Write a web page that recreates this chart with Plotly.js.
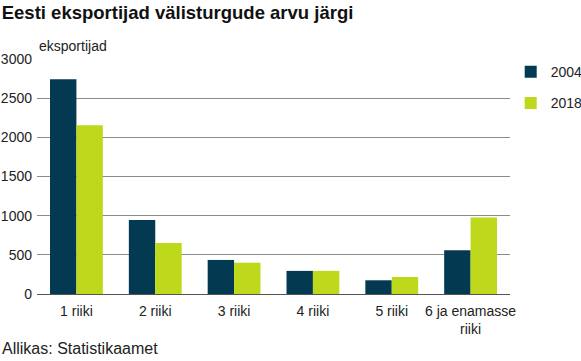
<!DOCTYPE html>
<html>
<head>
<meta charset="utf-8">
<script src="https://cdn.plot.ly/plotly-3.0.1.min.js"></script>
<style>html,body{margin:0;padding:0;background:#fff;}#chart{width:581px;height:361px;}</style>
</head>
<body>
<div id="chart"></div>
<script>
const categories = ["1 riiki", "2 riiki", "3 riiki", "4 riiki", "5 riiki", "6 ja enamasse<br>riiki"];
const values2004 = [2740, 945, 435, 295, 175, 560];
const values2018 = [2155, 650, 400, 295, 217, 978];
const seriesNames = ["2004", "2018"];
const yTicks = [0, 500, 1000, 1500, 2000, 2500, 3000];

const font = "Liberation Sans, Arial, sans-serif";

const data = [
  {type: "bar", name: seriesNames[0], x: categories, y: values2004,
   marker: {color: "#033a52"}, legendgroup: "a", hoverinfo: "y"},
  {type: "bar", name: seriesNames[1], x: categories, y: values2018,
   marker: {color: "#bed81c"}, legendgroup: "b", hoverinfo: "y"}
];

const layout = {
  width: 581, height: 361,
  margin: {l: 37, r: 71, t: 59, b: 67, autoexpand: false},
  paper_bgcolor: "#fff", plot_bgcolor: "#fff",
  font: {family: font, size: 14, color: "#222"},
  barmode: "group", bargap: 0.33, bargroupgap: 0,
  title: {text: "<b>Eesti eksportijad välisturgude arvu järgi</b>", x: 0.003, xanchor: "left", xref: "container",
          y: 0.966, yanchor: "middle", yref: "container", font: {family: font, size: 18.5, color: "#111"}},
  xaxis: {type: "category", showgrid: false, ticks: "", showline: false, zeroline: false,
          ticklabelstandoff: 7,
          tickfont: {family: font, size: 14, color: "#222"}},
  yaxis: {range: [0, 3000], tickvals: yTicks, ticktext: yTicks.map(String), showgrid: true,
          gridcolor: "#8c8c8c", gridwidth: 1, zeroline: true, zerolinecolor: "#555", zerolinewidth: 1,
          showline: false, ticks: "", ticklabelstandoff: 4,
          tickfont: {family: font, size: 14, color: "#222"}},
  legend: {x: 1.0015, xanchor: "left", y: 1.012, yanchor: "top", traceorder: "grouped", tracegroupgap: 10,
           font: {family: font, size: 14, color: "#222"}, itemwidth: 30},
  annotations: [
    {text: "eksportijad", xref: "paper", yref: "paper", x: 0, y: 1, xanchor: "left", yanchor: "bottom",
     yshift: 3, showarrow: false, font: {family: font, size: 14, color: "#222"}},
    {text: "Allikas: Statistikaamet", xref: "paper", yref: "paper", x: -0.078, y: 0, xanchor: "left", yanchor: "top",
     yshift: -44, showarrow: false, font: {family: font, size: 16, color: "#222"}}
  ]
};

Plotly.newPlot("chart", data, layout, {displayModeBar: false, staticPlot: true});
</script>
</body>
</html>
